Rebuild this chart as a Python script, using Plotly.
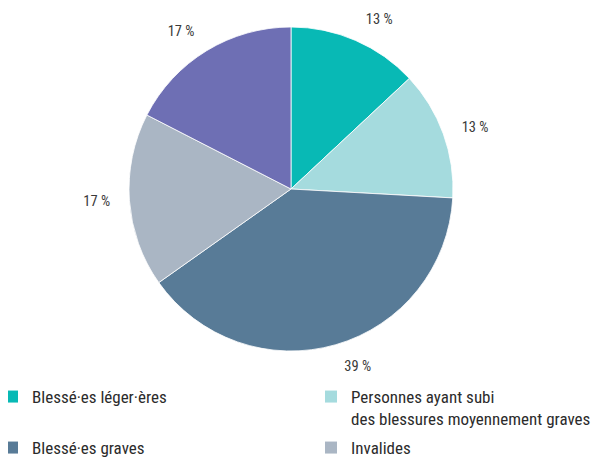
import plotly.graph_objects as go

categories = [
    "Blessé·es léger·ères",
    "Personnes ayant subi<br>des blessures moyennement graves",
    "Blessé·es graves",
    "Invalides",
    "Décédé·es",
]
values = [13.0, 12.8, 39.2, 17.3, 17.4]
colors = ["#08B9B5", "#A5DBDE", "#587B97", "#AAB6C4", "#6E6FB4"]

W, H = 604, 457
OFF = 8  # page body margin
cx, cy, r = 291 - OFF, 189 - OFF, 162
r_lab = r + 15

total = sum(values)
pct_text = [f"{round(v / total * 100)} %" for v in values]

FONT = "Liberation Sans Narrow, Roboto Condensed, Arial Narrow, Arial"


def dom(rad):
    return dict(x=[(cx - rad) / W, (cx + rad) / W], y=[1 - (cy + rad) / H, 1 - (cy - rad) / H])


fig = go.Figure()

# visible pie
fig.add_trace(go.Pie(
    labels=categories, values=values, sort=False, direction="clockwise", rotation=0,
    marker=dict(colors=colors, line=dict(color="white", width=0.8)),
    textinfo="none", automargin=False, domain=dom(r), showlegend=False,
    hoverinfo="label+percent",
))

# transparent wider pie carrying the outside percentage labels
lab_font = dict(family=FONT, size=14.5, color="#3a3a3a")
fig.add_trace(go.Pie(
    labels=categories, values=values, sort=False, direction="clockwise", rotation=0,
    marker=dict(colors=["rgba(0,0,0,0)"] * len(values), line=dict(width=0)),
    text=pct_text, texttemplate="%{text}", textposition="outside",
    textfont=lab_font, outsidetextfont=lab_font,
    automargin=False, domain=dom(r_lab), showlegend=False, hoverinfo="skip",
))

# legend entries: one legend per entry, in two columns
col_left = [-8 - OFF, 311 - OFF]
row_center = [397 - OFF, 448 - OFF, 499 - OFF]
positions = [(0, 0), (1, 0), (0, 1), (1, 1), (0, 2)]

layout_legends = {}
for i, (cat, col) in enumerate(zip(categories, colors)):
    name = "legend" if i == 0 else f"legend{i + 1}"
    c, rw = positions[i]
    fig.add_trace(go.Scatter(
        x=[None], y=[None], mode="markers", name=cat,
        marker=dict(symbol="square", size=12, color=col),
        legend=name, showlegend=True, hoverinfo="skip",
    ))
    top = row_center[rw] - 18
    layout_legends[name] = dict(
        x=col_left[c] / W, xanchor="left",
        y=1 - top / H, yanchor="top",
        orientation="v", valign="top",
        font=dict(family=FONT, size=17, color="#2b2b2b"),
        bgcolor="rgba(0,0,0,0)",
    )

fig.update_layout(
    width=W, height=H,
    margin=dict(l=0, r=0, t=0, b=0, autoexpand=False),
    paper_bgcolor="white", plot_bgcolor="white",
    xaxis=dict(visible=False), yaxis=dict(visible=False),
    showlegend=True,
    **layout_legends,
)

fig.write_html("out.html")
